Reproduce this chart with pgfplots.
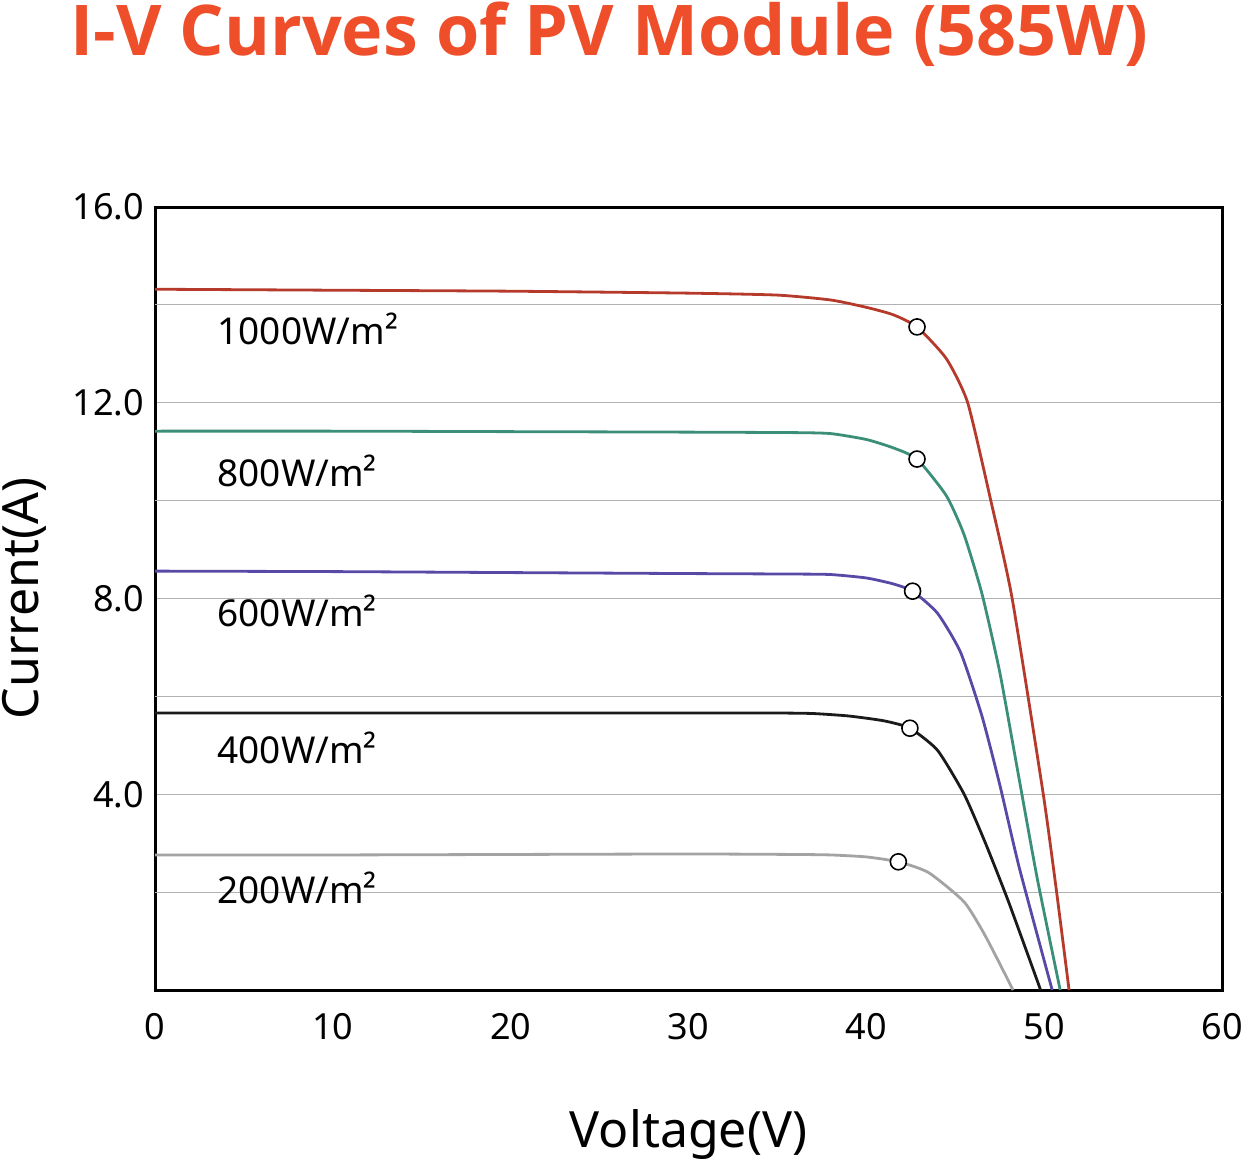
\documentclass[border=0pt]{standalone}
\usepackage{fontspec}
\setmainfont{Noto Sans}
\newfontfamily\titlefont{Open Sans}
\usepackage{pgfplots}
\pgfplotsset{compat=1.18}
\definecolor{ttl}{HTML}{EE4E2A}
\definecolor{c1}{HTML}{B53A2B}
\definecolor{c2}{HTML}{3B8F78}
\definecolor{c3}{HTML}{5849A6}
\definecolor{c4}{HTML}{1A1A1A}
\definecolor{c5}{HTML}{A3A3A3}
\begin{document}
\begin{tikzpicture}
\path[use as bounding box] (0,0) rectangle (620.5pt,-582pt);
\node[anchor=north west,inner sep=0,text=ttl,font=\titlefont\fontsize{35}{38}\selectfont\bfseries] at (35pt,-1pt) {I-V Curves of PV Module (585W)};
\begin{axis}[at={(77.5pt,-495pt)},anchor=south west,
 width=533.5pt,height=391.5pt,scale only axis,
 xmin=0,xmax=60,ymin=0,ymax=16,
 xtick={0,10,...,60},ytick={4,8,12,16},
 yticklabels={4.0,8.0,12.0,16.0},
 extra y ticks={2,6,10,14},extra y tick labels={},
 extra y tick style={grid=major,major tick length=0},
 ymajorgrids,grid style={gray!60,line width=0.6pt},
 major tick length=0pt,
 axis line style={line width=1.5pt},
 tick label style={font=\fontsize{18}{20}\selectfont},
 /pgf/number format/assume math mode=true,
 xticklabel style={yshift=-8pt},
 yticklabel style={xshift=-2pt},
 xlabel={Voltage(V)},ylabel={Current(A)},
 label style={font=\fontsize{25}{27}\selectfont},
 xlabel style={yshift=-28pt},
 ylabel style={yshift=6pt},
 clip=false]
\addplot[c1,line width=1.4pt,smooth,tension=0.35] coordinates {(0,14.32)(10,14.3)(20,14.28)(30,14.24)(35,14.2)(38,14.1)(40,13.95)(41.5,13.8)(42.85,13.55)(44.5,12.9)(45.7,12)(47,10)(48.2,8)(49.95,4)(50.7,2)(51.4,0)};
\addplot[c2,line width=1.4pt,smooth,tension=0.35] coordinates {(0,11.42)(10,11.42)(20,11.41)(30,11.4)(36,11.39)(38,11.37)(40,11.25)(41.5,11.08)(42.85,10.85)(44.5,10.1)(45.5,9.3)(46.5,8.1)(47.5,6.5)(48.5,4.5)(49.6,2.3)(50.9,0)};
\addplot[c3,line width=1.4pt,smooth,tension=0.35] coordinates {(0,8.56)(10,8.55)(20,8.53)(30,8.51)(36,8.5)(38,8.49)(40,8.42)(41.5,8.3)(42.6,8.15)(44,7.7)(45.3,6.9)(46.5,5.6)(47.5,4.2)(48.6,2.5)(50.45,0)};
\addplot[c4,line width=1.4pt,smooth,tension=0.35] coordinates {(0,5.66)(10,5.66)(20,5.66)(30,5.66)(35,5.66)(37,5.65)(39,5.6)(41,5.5)(42.45,5.35)(44,4.9)(45.5,4.0)(46.7,3.0)(48,1.8)(49.8,0)};
\addplot[c5,line width=1.4pt,smooth,tension=0.35] coordinates {(0,2.76)(10,2.76)(20,2.77)(30,2.78)(36,2.77)(38,2.76)(40,2.72)(41.8,2.62)(43.5,2.4)(45.5,1.8)(46.7,1.1)(48.25,0)};
\addplot[only marks,mark=*,mark size=4pt,mark options={fill=white,draw=black,line width=0.8pt}] coordinates {(42.85,13.55)(42.85,10.85)(42.6,8.15)(42.45,5.35)(41.8,2.62)};
\foreach \l/\y in {1000/13.5,800/10.6,600/7.75,400/4.95,200/2.08}{
 \edef\tmp{\noexpand\node[anchor=west,inner sep=0,font=\noexpand\fontsize{18.5}{20}\noexpand\selectfont] at (axis cs:3.5,\y) {\l W/m²};}\tmp}
\end{axis}
\end{tikzpicture}
\end{document}
